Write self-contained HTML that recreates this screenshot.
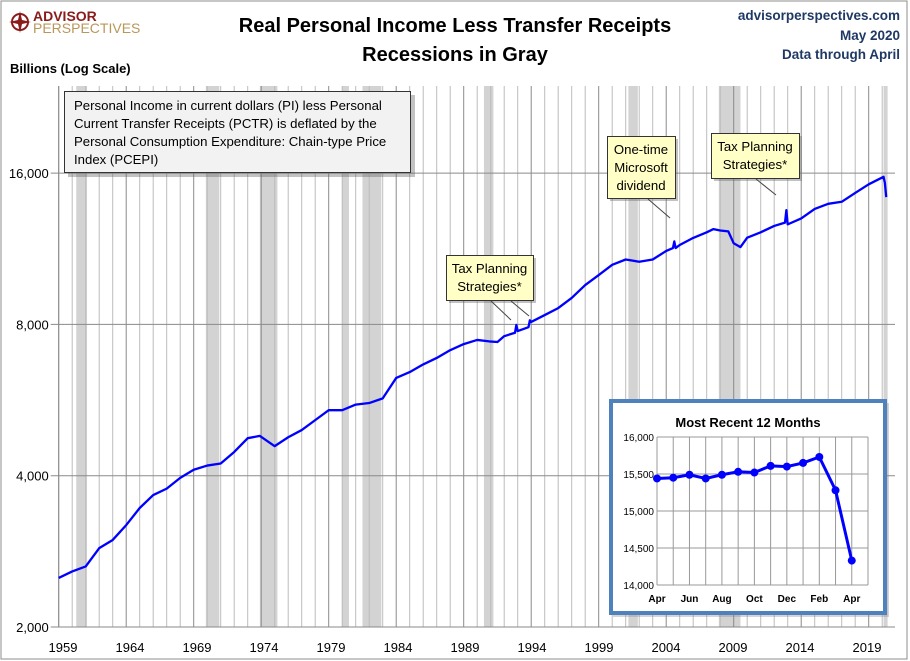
<!DOCTYPE html>
<html><head><meta charset="utf-8"><style>
body{margin:0;background:#fff;}
#wrap{position:relative;width:910px;height:661px;overflow:hidden;font-family:"Liberation Sans",sans-serif;}
svg text{font-family:"Liberation Sans",sans-serif;}
</style></head><body>
<div id="wrap">
<svg id="c" width="910" height="661" xmlns="http://www.w3.org/2000/svg"></svg>
</div>
<script>
const recessions=[[1960.3,1961.1],[1969.9,1970.9],[1973.9,1975.2],[1980.0,1980.5],[1981.5,1982.9],[1990.5,1991.2],[2001.2,2001.9],[2007.9,2009.5],[2020.1,2020.4]];
const years=[1959,1960,1961,1962,1963,1964,1965,1966,1967,1968,1969,1970,1971,1972,1973,1973.9,1975,1976,1977,1978,1979,1980,1981,1982,1983,1984,1985,1986,1987,1988,1989,1990,1990.9,1991.5,1992,1992.8,1992.9,1993,1993.8,1993.9,1994,1995,1996,1997,1998,1999,2000,2001,2002,2003,2004,2004.5,2004.6,2004.7,2005,2006,2007,2007.5,2008,2008.6,2009,2009.5,2010,2011,2012,2012.8,2012.9,2013,2014,2015,2016,2017,2018,2019,2020.1,2020.2,2020.3];
const values=[2504,2580,2640,2870,2980,3190,3450,3660,3770,3960,4110,4190,4230,4460,4750,4800,4580,4770,4930,5160,5400,5400,5540,5580,5700,6260,6430,6660,6860,7110,7310,7450,7400,7380,7580,7700,7980,7760,7900,8150,8090,8350,8620,9030,9580,10030,10510,10770,10660,10770,11200,11350,11700,11350,11510,11890,12200,12380,12300,12250,11600,11400,11900,12200,12560,12750,13500,12650,13000,13580,13900,14030,14610,15200,15730,15280,14330];
const yTicks=[2000,4000,8000,16000];
const yTickLabels=["2,000","4,000","8,000","16,000"];
const xTicks=[1959,1964,1969,1974,1979,1984,1989,1994,1999,2004,2009,2014,2019];
const months=["Apr","May","Jun","Jul","Aug","Sep","Oct","Nov","Dec","Jan","Feb","Mar","Apr"];
const recent=[15440,15450,15490,15440,15490,15530,15520,15610,15600,15650,15730,15280,14330];
const insetTicks=[14000,14500,15000,15500,16000];
const insetTickLabels=["14,000","14,500","15,000","15,500","16,000"];

const NS="http://www.w3.org/2000/svg";
const svg=document.getElementById('c');
function el(tag,attrs,parent){const e=document.createElementNS(NS,tag);for(const k in attrs)e.setAttribute(k,attrs[k]);(parent||svg).appendChild(e);return e;}
const L=58.7,R=895,T=86,B=627;
const xs=y=>L+(y-1959)*13.5;
const ys=v=>B-Math.log2(v/2000)*151.3;

let e;
e=el('rect',{x:1,y:1,width:906,height:658,fill:'#fff',stroke:'#8c8c8c','stroke-width':1});

recessions.forEach(r=>{e=el('rect',{x:xs(r[0]),y:T,width:xs(Math.min(r[1],2020.45))-xs(r[0]),height:B-T,fill:'#d3d3d3'});
});
for(let y=1959;y<=2021;y++){const x=xs(y);if(x>R)break;e=el('line',{x1:x,x2:x,y1:T,y2:B,stroke:(y-1959)%5==0?'#8a8a8a':'#bcbcbc','stroke-width':1});
}
yTicks.forEach((v,i)=>{const y=ys(v);e=el('line',{x1:L-8,x2:R,y1:y,y2:y,stroke:'#8a8a8a','stroke-width':1});

e=el('text',{x:L-10,y:y+5,'text-anchor':'end','font-size':13,fill:'#000'});e.textContent=yTickLabels[i];
});
xTicks.forEach(t=>{e=el('text',{x:63+(t-1959)*13.4,y:652,'text-anchor':'middle','font-size':13,fill:'#000'});e.textContent=t;
});
e=el('line',{x1:L,x2:L,y1:T,y2:B,stroke:'#8a8a8a'});
e=el('polyline',{points:years.map((y,i)=>xs(y)+','+ys(values[i])).join(' '),fill:'none',stroke:'#0000ff','stroke-width':2.3,'stroke-linejoin':'round'});


e=el('rect',{x:68,y:95,width:347,height:82,fill:'#666',opacity:0.4});
e=el('rect',{x:64.5,y:91.5,width:346,height:81,fill:'#f2f2f2',stroke:'#333'});
["Personal Income in current dollars  (PI) less Personal","Current Transfer Receipts (PCTR) is deflated by the","Personal Consumption Expenditure: Chain-type Price","Index (PCEPI)"].forEach((t,i)=>{e=el('text',{x:74,y:110+i*18,'font-size':13.2,fill:'#000'});e.textContent=t;
});

function callout(x,y,w,h,lines,name,lx){
 e=el('rect',{x:x+3,y:y+3,width:w,height:h,fill:'#666',opacity:0.4});
 e=el('rect',{x:x+.5,y:y+.5,width:w,height:h,fill:'#ffffc6',stroke:'#333'});
 lines.forEach((t,i)=>{e=el('text',{x:x+w/2,y:y+18+i*18,'text-anchor':'middle','font-size':13.2,fill:'#000'});e.textContent=t;
 });
 lx.forEach(l=>{e=el('line',{x1:l[0],y1:l[1],x2:l[2],y2:l[3],stroke:'#444','stroke-width':1});});
}
callout(446,255,87,45,["Tax Planning","Strategies*"],'tax-callout-1993',[[491,301,511,320],[511,301,529,316]]);
callout(607,136,68,62,["One-time","Microsoft","dividend"],'microsoft-callout',[[648,199,670,218]]);
callout(711,133,88,45,["Tax Planning","Strategies*"],'tax-callout-2013',[[756,179,776,195]]);

e=el('text',{x:455,y:32,'text-anchor':'middle','font-size':20,'font-weight':'bold',fill:'#000'});e.textContent='Real Personal Income Less Transfer Receipts';
e=el('text',{x:455,y:61,'text-anchor':'middle','font-size':20,'font-weight':'bold',fill:'#000'});e.textContent='Recessions in Gray';
e=el('text',{x:10,y:73,'font-size':13,'font-weight':'bold',fill:'#000'});e.textContent='Billions (Log Scale)';
[["advisorperspectives.com",20],["May 2020",40],["Data through April",59]].forEach(a=>{e=el('text',{x:900,y:a[1],'text-anchor':'end','font-size':13.5,'font-weight':'bold',fill:'#1f3864'});e.textContent=a[0];
});
e=el('circle',{cx:20,cy:22,r:8,fill:'none',stroke:'#8b1a1a','stroke-width':2});
e=el('path',{d:'M20 11 L22 20 L31 22 L22 24 L20 33 L18 24 L9 22 L18 20Z',fill:'#8b1a1a'});
e=el('text',{x:33,y:21,'font-size':14,'font-weight':'bold',fill:'#8b1a1a'});e.textContent='ADVISOR';
e=el('text',{x:33,y:33,'font-size':14,fill:'#b8975a'});e.textContent='PERSPECTIVES';

e=el('rect',{x:613,y:403,width:276,height:214,fill:'#888',opacity:0.35});
e=el('rect',{x:611,y:401,width:274,height:212,fill:'#fff',stroke:'#4f81bd','stroke-width':4});
e=el('text',{x:748,y:427,'text-anchor':'middle','font-size':13,'font-weight':'bold',fill:'#000'});e.textContent='Most Recent 12 Months';
const iL=657,iR=868,iT=437,iB=585;
const ix=i=>iL+i*(iR-iL)/13;
const iy=v=>iB-(v-14000)/2000*(iB-iT);
for(let i=0;i<=13;i++){e=el('line',{x1:ix(i),x2:ix(i),y1:iT,y2:iB,stroke:'#999'});}
insetTicks.forEach((v,i)=>{e=el('line',{x1:iL,x2:iR,y1:iy(v),y2:iy(v),stroke:'#999'});
e=el('text',{x:iL-3,y:iy(v)+4,'text-anchor':'end','font-size':10,fill:'#000'});e.textContent=insetTickLabels[i];});
months.forEach((m,i)=>{if(i%2==0){e=el('text',{x:ix(i),y:602,'text-anchor':'middle','font-size':10,'font-weight':'bold',fill:'#000'});e.textContent=m;
}});
e=el('polyline',{points:recent.map((v,i)=>ix(i)+','+iy(v)).join(' '),fill:'none',stroke:'#0000ff','stroke-width':3});
recent.forEach((v,i)=>{e=el('circle',{cx:ix(i),cy:iy(v),r:4,fill:'#0000ff'});});
</script>
</body></html>
